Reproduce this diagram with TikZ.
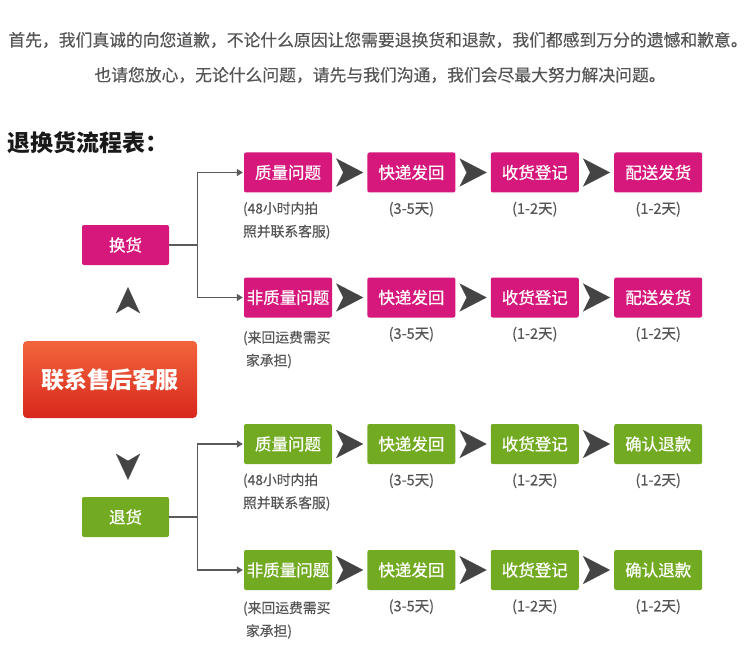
\documentclass[tikz,border=0pt]{standalone}
\usepackage{fontspec}
\setmainfont{Noto Sans CJK SC}
\newfontfamily\boxfont[FakeBold=0.7]{Noto Sans CJK SC}
\newfontfamily\notefont[FakeBold=0.3]{Noto Sans CJK SC}
\usepackage{tikz}
\usetikzlibrary{positioning, calc, shapes, arrows.meta, fit}

\definecolor{huanpink}{HTML}{D6177B}
\definecolor{tuigreen}{HTML}{72AB22}
\definecolor{kefutop}{HTML}{F2653C}
\definecolor{kefubottom}{HTML}{D8271D}
\definecolor{jiantou}{HTML}{444444}
\definecolor{xian}{HTML}{5A5A5A}
\definecolor{wenzi}{HTML}{555555}

\tikzset{
  box/.style = {minimum width=88pt, minimum height=40pt, inner sep=1pt, rounded corners=2pt,
                text=white, font=\boxfont\fontsize{16.5}{18}\selectfont},
  hbox/.style = {box, fill=huanpink},
  tbox/.style = {box, fill=tuigreen},
  days/.style = {text=wenzi, inner sep=0pt, font=\notefont\fontsize{14.5}{16}\selectfont},
  note/.style = {text=wenzi, inner sep=0pt, align=left, anchor=north west, font=\notefont\fontsize{13.8}{23}\selectfont},
  intro/.style = {text=wenzi, inner sep=0pt, font=\notefont\fontsize{16.8}{20}\selectfont},
  chevron/.style = {white, line width=0.1pt, shorten <=3pt, shorten >=4pt,
                    -{Stealth[length=27pt, width=28pt, inset=7pt, color=jiantou]}},
  updown/.style = {white, line width=0.1pt, -{Stealth[length=26pt, width=24pt, inset=7pt, color=jiantou]}},
  branch/.style = {xian, line width=1.3pt, shorten >=1pt, -{Triangle[length=6pt, width=7pt]}}
}

\begin{document}
\begin{tikzpicture}[x=1pt, y=-1pt]
  \fill[white] (0,0) rectangle (750,650);
  \useasboundingbox (0,0) rectangle (750,650);

  \node[intro] (intro1) at (378,40) {首先，我们真诚的向您道歉，不论什么原因让您需要退换货和退款，我们都感到万分的遗憾和歉意。};
  \node[intro] (intro2) at (380,75) {也请您放心，无论什么问题，请先与我们沟通，我们会尽最大努力解决问题。};
  \node[anchor=west, inner sep=0pt, text=black!90, font=\bfseries\fontsize{23}{26}\selectfont] (title) at (7,143) {退换货流程表：};

  % 联系售后客服
  \node[minimum width=174pt, minimum height=77pt, rounded corners=4pt, top color=kefutop, bottom color=kefubottom,
        text=white, font=\bfseries\fontsize{23}{26}\selectfont] (kefu) at (110,379.5) {联系售后客服};

  % 换货
  \node[hbox, minimum width=87pt] (huan) at (125.5,245) {换货};
  \node[hbox] (hq1) at (288,172.5) {质量问题};
  \node[hbox, right=35pt of hq1] (hq2) {快递发回};
  \node[hbox, right=35pt of hq2] (hq3) {收货登记};
  \node[hbox, right=35pt of hq3] (hq4) {配送发货};
  \node[hbox] (hn1) at (288,297.5) {非质量问题};
  \node[hbox, right=35pt of hn1] (hn2) {快递发回};
  \node[hbox, right=35pt of hn2] (hn3) {收货登记};
  \node[hbox, right=35pt of hn3] (hn4) {配送发货};

  \node[note] at ([shift={(-1,9)}]hq1.south west) {(48小时内拍\\照并联系客服)};
  \node[days, below=9pt of hq2] {(3-5天)};
  \node[days, below=9pt of hq3] {(1-2天)};
  \node[days, below=9pt of hq4] {(1-2天)};
  \node[note] at ([shift={(-1,13)}]hn1.south west) {(来回运费需买\\\hspace{3pt}家承担)};
  \node[days, below=9pt of hn2] {(3-5天)};
  \node[days, below=9pt of hn3] {(1-2天)};
  \node[days, below=9pt of hn4] {(1-2天)};

  % 退货
  \node[tbox, minimum width=87pt] (tui) at (125.5,517) {退货};
  \node[tbox] (tq1) at (288,444) {质量问题};
  \node[tbox, right=35pt of tq1] (tq2) {快递发回};
  \node[tbox, right=35pt of tq2] (tq3) {收货登记};
  \node[tbox, right=35pt of tq3] (tq4) {确认退款};
  \node[tbox] (tn1) at (288,570) {非质量问题};
  \node[tbox, right=35pt of tn1] (tn2) {快递发回};
  \node[tbox, right=35pt of tn2] (tn3) {收货登记};
  \node[tbox, right=35pt of tn3] (tn4) {确认退款};

  \node[note] at ([shift={(-1,9)}]tq1.south west) {(48小时内拍\\照并联系客服)};
  \node[days, below=9pt of tq2] {(3-5天)};
  \node[days, below=9pt of tq3] {(1-2天)};
  \node[days, below=9pt of tq4] {(1-2天)};
  \node[note] at ([shift={(-1,11)}]tn1.south west) {(来回运费需买\\\hspace{3pt}家承担)};
  \node[days, below=9pt of tn2] {(3-5天)};
  \node[days, below=9pt of tn3] {(1-2天)};
  \node[days, below=9pt of tn4] {(1-2天)};

  % connectors
  \draw[updown, shorten <=28pt, shorten >=22pt] ($(huan.south |- kefu.north)+(2.5,0)$) -- ($(huan.south)+(2.5,0)$);
  \draw[updown, shorten <=35pt, shorten >=17pt] ($(tui.north |- kefu.south)+(2.5,0)$) -- ($(tui.north)+(2.5,0)$);

  \draw[branch] (huan.east) -- ++(28,0) |- (hq1.west);
  \draw[branch] (huan.east) -- ++(28,0) |- (hn1.west);
  \draw[branch] (tui.east) -- ++(28,0) |- (tq1.west);
  \draw[branch] (tui.east) -- ++(28,0) |- (tn1.west);

  \draw[chevron] (hq1) -- (hq2);
  \draw[chevron] (hq2) -- (hq3);
  \draw[chevron] (hq3) -- (hq4);
  \draw[chevron] (hn1) -- (hn2);
  \draw[chevron] (hn2) -- (hn3);
  \draw[chevron] (hn3) -- (hn4);
  \draw[chevron] (tq1) -- (tq2);
  \draw[chevron] (tq2) -- (tq3);
  \draw[chevron] (tq3) -- (tq4);
  \draw[chevron] (tn1) -- (tn2);
  \draw[chevron] (tn2) -- (tn3);
  \draw[chevron] (tn3) -- (tn4);
\end{tikzpicture}
\end{document}
